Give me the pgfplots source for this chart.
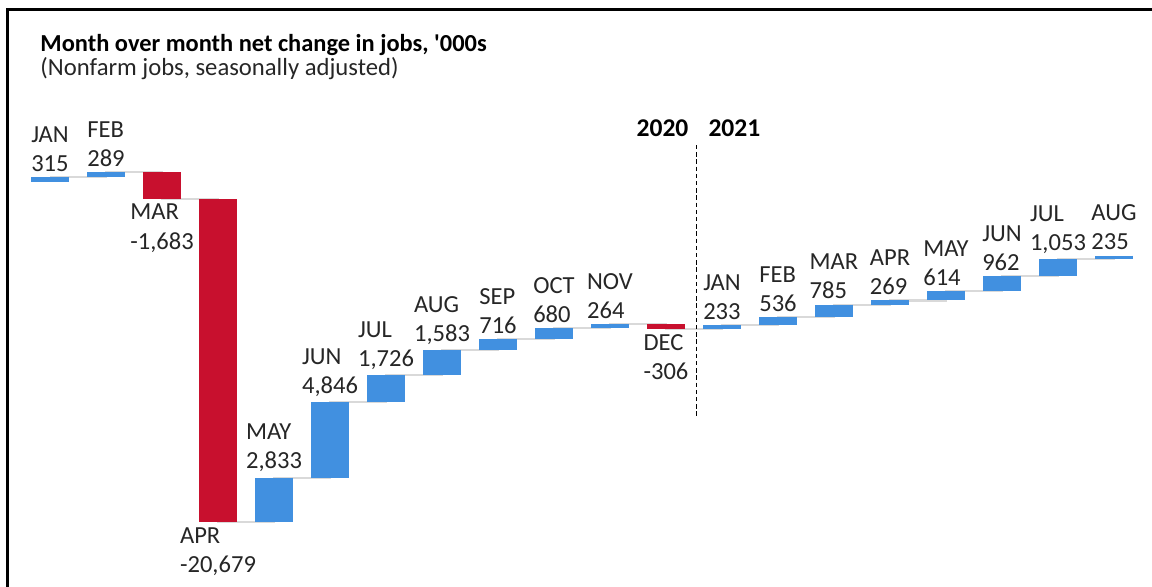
\documentclass[border=0pt]{standalone}
\usepackage{fontspec}
\setmainfont{Carlito}
\usepackage{pgfplots}
\usepackage{pgfplotstable}
\pgfplotsset{compat=1.18}

\definecolor{riseblue}{HTML}{4190E0}
\definecolor{fallred}{HTML}{C8102E}
\definecolor{linkgray}{HTML}{D9D9D9}
\definecolor{txt}{HTML}{262626}

% "MON/value" -> two lines
\def\splitlab#1/#2\relax{#1\\#2}

% net change per month, '000s; start/end = running total before/after the month
\pgfplotstableread{
x  start   end     tag
0  0       315     JAN/315
1  315     604     FEB/289
2  604     -1079   MAR/-1,683
3  -1079   -21758  APR/-20,679
4  -21758  -18925  MAY/2,833
5  -18925  -14079  JUN/4,846
6  -14079  -12353  JUL/1,726
7  -12353  -10770  AUG/1,583
8  -10770  -10054  SEP/716
9  -10054  -9374   OCT/680
10 -9374   -9110   NOV/264
11 -9110   -9416   DEC/-306
12 -9416   -9183   JAN/233
13 -9183   -8647   FEB/536
14 -8647   -7862   MAR/785
15 -7862   -7593   APR/269
16 -7593   -6979   MAY/614
17 -6979   -6017   JUN/962
18 -6017   -4964   JUL/1,053
19 -4964   -4729   AUG/235
}\jobs

\begin{document}
\begin{tikzpicture}
\begin{axis}[
    scale only axis,
    width=16cm, height=8.1389cm,
    xmin=-0.893, xmax=19.679,
    ymin=-25856, ymax=11629,
    axis lines=none, xtick=\empty, ytick=\empty,
    clip=false,
    every node near coord/.append style={
        font=\fontsize{9.7}{11.5}\selectfont, text=txt, align=left, inner sep=2pt},
]

% connectors between bars
\addplot [const plot, draw=linkgray, line width=0.028cm, mark=none]
    table [x=x, y=end] {\jobs};

% rises
\addplot [draw=none, mark=none,
    restrict expr to domain={\thisrow{end}-\thisrow{start}}{0:100000},
    point meta=explicit symbolic,
    nodes near coords={\expandafter\splitlab\pgfplotspointmeta\relax},
    nodes near coords style={anchor=south},
    error bars/y dir=minus, error bars/y explicit, error bars/error mark=none,
    error bars/error bar style={draw=riseblue, line width=0.528cm, solid}]
    table [x=x, y=end, meta=tag, y error expr={\thisrow{end}-\thisrow{start}}] {\jobs};

% falls
\addplot [draw=none, mark=none,
    restrict expr to domain={\thisrow{end}-\thisrow{start}}{-100000:0},
    point meta=explicit symbolic,
    nodes near coords={\expandafter\splitlab\pgfplotspointmeta\relax},
    nodes near coords style={anchor=north},
    error bars/y dir=plus, error bars/y explicit, error bars/error mark=none,
    error bars/error bar style={draw=fallred, line width=0.528cm, solid}]
    table [x=x, y=end, meta=tag, y error expr={\thisrow{start}-\thisrow{end}}] {\jobs};

% year divider
\addplot [draw=black, line width=0.014cm, dash pattern=on 0.06cm off 0.04cm, mark=none]
    coordinates {(11.55,2350) (11.55,-15120)};
\node [anchor=east, inner sep=0pt, font=\fontsize{10.1}{11}\selectfont\bfseries, text=black]
    at (rel axis cs:0.598,0.7816) {2020};
\node [anchor=west, inner sep=0pt, font=\fontsize{10.1}{11}\selectfont\bfseries, text=black]
    at (rel axis cs:0.6146,0.7816) {2021};

% titles
\node [anchor=base west, inner sep=0pt, font=\fontsize{9.65}{11}\selectfont\bfseries, text=black]
    at (rel axis cs:0.0347,0.9113) {Month over month net change in jobs, \textquotesingle000s};
\node [anchor=base west, inner sep=0pt, font=\fontsize{9.75}{11}\selectfont, text=txt]
    at (rel axis cs:0.0347,0.8703) {(Nonfarm jobs, seasonally adjusted)};

% frame
\draw [line width=0.042cm, line cap=rect] (rel axis cs:0.0061,0) |- (rel axis cs:1,0.983);
\end{axis}
\pgfresetboundingbox
\path (0,0) rectangle (16cm,8.1389cm);
\end{tikzpicture}
\end{document}
